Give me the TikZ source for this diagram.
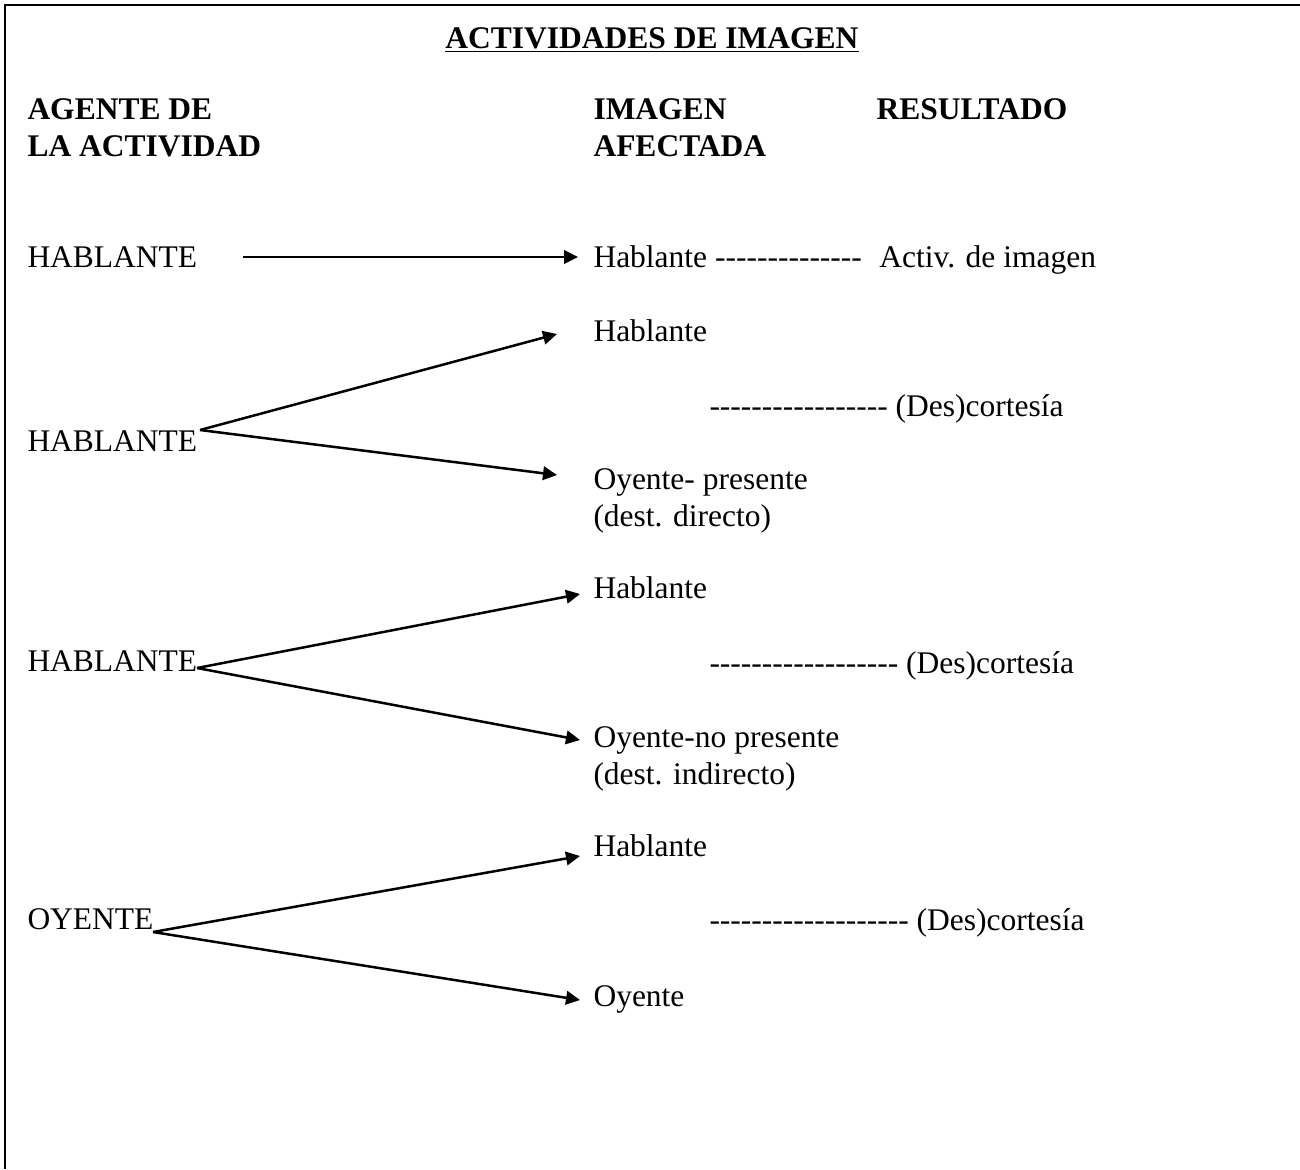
\documentclass[tikz,border=0pt]{standalone}
\usepackage{fontspec}
\setmainfont{Liberation Serif}[Ligatures=TeXOff]
\usetikzlibrary{arrows.meta}
\begin{document}
\begin{tikzpicture}[x=0.4pt,y=-0.4pt,
  txt/.style={anchor=base west, inner sep=0pt, font=\fontsize{12.6}{15}\selectfont},
  hd/.style={txt, font=\fontsize{12.6}{15}\selectfont\bfseries},
  arr/.style={-{Triangle[length=5.6pt,width=5.4pt]}, line width=1pt}]
\useasboundingbox (0,0) rectangle (1300,1169);
% open frame: left and top sides only
\draw[line width=0.9pt] (5,1169) -- (5,5) -- (1300,5);

% title and column headings
\node[hd, anchor=base] (title) at (652,48) {\underline{ACTIVIDADES DE IMAGEN}};
\node[hd] (agA) at (27,119) {AGENTE DE};
\node[hd] (agB) at (27,156) {LA ACTIVIDAD};
\node[hd] (imA) at (593,119) {IMAGEN};
\node[hd] (imB) at (593,156) {AFECTADA};
\node[hd] (res) at (876,119) {RESULTADO};

% row 1
\node[txt] (s1) at (27,267) {HABLANTE};
\node[txt] (t1) at (593,267) {Hablante --------------\hspace{7pt}Activ. de imagen};
\coordinate (s1e) at (243,257);
\coordinate (t1e) at (578,257);
\draw[arr] (s1e) -- (t1e);

% row 2
\node[txt] (s2) at (27,451) {HABLANTE};
\node[txt] (u2) at (593,341) {Hablante};
\node[txt] (r2) at (709,416) {----------------- (Des)cortesía};
\node[txt] (d2a) at (593,489) {Oyente- presente};
\node[txt] (d2b) at (593,526) {(dest. directo)};
\coordinate (s2e) at (200,430);
\coordinate (u2e) at (557,334);
\coordinate (d2e) at (557,475);
\draw[arr] (s2e) -- (u2e);
\draw[arr] (s2e) -- (d2e);

% row 3
\node[txt] (s3) at (27,671) {HABLANTE};
\node[txt] (u3) at (593,598) {Hablante};
\node[txt] (r3) at (709,673) {------------------ (Des)cortesía};
\node[txt] (d3a) at (593,747) {Oyente-no presente};
\node[txt] (d3b) at (593,784) {(dest. indirecto)};
\coordinate (s3e) at (197,668);
\coordinate (u3e) at (580,594);
\coordinate (d3e) at (580,740);
\draw[arr] (s3e) -- (u3e);
\draw[arr] (s3e) -- (d3e);

% row 4
\node[txt] (s4) at (27,929) {OYENTE};
\node[txt] (u4) at (593,856) {Hablante};
\node[txt] (r4) at (709,930) {------------------- (Des)cortesía};
\node[txt] (d4) at (593,1006) {Oyente};
\coordinate (s4e) at (153,932);
\coordinate (u4e) at (580,856);
\coordinate (d4e) at (580,1000);
\draw[arr] (s4e) -- (u4e);
\draw[arr] (s4e) -- (d4e);
\end{tikzpicture}
\end{document}
